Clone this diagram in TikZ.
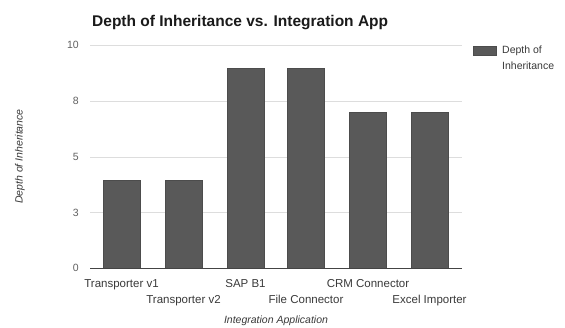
\documentclass[tikz,border=0pt]{standalone}
\usepackage{fontspec}
\setmainfont{Liberation Sans}
\definecolor{barfill}{HTML}{595959}
\definecolor{gridgrey}{HTML}{DDDDDD}
\definecolor{axisgrey}{HTML}{444444}
\definecolor{labelgrey}{HTML}{3A3A3A}
\definecolor{titleink}{HTML}{1A1A1A}
\begin{document}
\begin{tikzpicture}[x=1pt,y=-1pt,
  bar/.style={fill=barfill,draw=barfill!85!black,line width=0.4pt},
  gridline/.style={draw=gridgrey,line width=0.9pt},
  baseline/.style={draw=axisgrey,line width=0.9pt},
  ticklabel/.style={anchor=east,inner sep=0pt,text=labelgrey!80,font=\fontsize{10.5}{12}\selectfont},
  catlabel/.style={anchor=base,inner sep=0pt,text=labelgrey,font=\fontsize{11.5}{13}\selectfont},
  axistitle/.style={inner sep=0pt,text=labelgrey,font=\fontsize{10.5}{12}\selectfont\itshape},
  charttitle/.style={anchor=base west,inner sep=0pt,text=titleink,font=\fontsize{15.5}{18}\selectfont\bfseries},
  legendtext/.style={anchor=north west,inner sep=0pt,align=left,text=labelgrey,font=\fontsize{10.5}{16}\selectfont}]

  % canvas
  \fill[white] (0,0) rectangle (565,327);
  \useasboundingbox (0,0) rectangle (565,327);

  % title
  \node[charttitle] (title) at (92,26.5) {Depth of Inheritance vs. Integration App};

  % horizontal gridlines (0, 2.5, 5, 7.5, 10)
  \foreach \gy/\lab/\nm in {45/10/t10, 101/8/t8, 157/5/t5, 212.5/3/t3} {
    \coordinate (gl\nm) at (90,\gy);
    \coordinate (gr\nm) at (462,\gy);
    \draw[gridline] (gl\nm) -- (gr\nm);
    \node[ticklabel] (\nm) at (79,\gy) {\lab};
  }
  \node[ticklabel] (t0) at (79,268) {0};

  % bars: centre / top
  \foreach \cx/\ty/\nm in {121.5/180.5/b1, 183.5/180.5/b2, 245.5/68/b3,
                           306/68/b4, 368/112.5/b5, 429.5/112.5/b6} {
    \coordinate (\nm top) at (\cx-18.5,\ty);
    \coordinate (\nm foot) at (\cx+18.5,268);
    \fill[bar] (\nm top) rectangle (\nm foot);
  }

  % x axis line
  \coordinate (axl) at (90,268);
  \coordinate (axr) at (462,268);
  \draw[baseline] (axl) -- (axr);

  % category labels, staggered over two rows
  \node[catlabel] (c1) at (121.5,287) {Transporter v1};
  \node[catlabel] (c2) at (183.5,303) {Transporter v2};
  \node[catlabel] (c3) at (245.5,287) {SAP B1};
  \node[catlabel] (c4) at (306,303) {File Connector};
  \node[catlabel] (c5) at (368,287) {CRM Connector};
  \node[catlabel] (c6) at (429.5,303) {Excel Importer};

  % axis titles
  \node[axistitle,anchor=base] (xtitle) at (276,323.5) {Integration Application};
  \node[axistitle,rotate=90] (ytitle) at (20,156.5) {Depth of Inheritance};

  % legend
  \coordinate (lega) at (473,46);
  \coordinate (legb) at (496,55);
  \fill[bar] (lega) rectangle (legb);
  \node[legendtext] (legtext) at (502,46) {Depth of\\Inheritance};
\end{tikzpicture}
\end{document}
